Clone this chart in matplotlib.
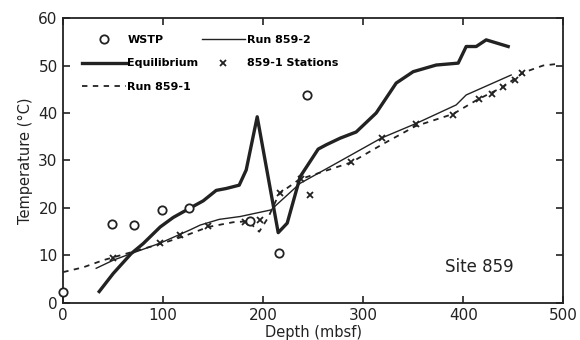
import matplotlib
matplotlib.use("Agg")
from matplotlib import pyplot as plt

# WSTP measurements (circles)
wstp_depth = [0, 49, 71, 99, 126, 187, 216, 244]
wstp_temp = [2.2, 16.6, 16.4, 19.6, 19.9, 17.3, 10.5, 43.8]

# equilibrium temperature (thick line)
eq_depth = [36, 50, 68, 80, 97, 110, 127, 140, 153, 163, 176, 183, 194, 215, 224,
            237, 255, 263, 277, 293, 313, 333, 350, 373, 395, 403, 413, 423, 445]
eq_temp = [2.4, 6.2, 10.4, 12.5, 16, 18, 20, 21.5, 23.7, 24.1, 24.8, 28, 39.2, 14.8, 16.8,
           26.6, 32.4, 33.3, 34.7, 36, 40, 46.3, 48.7, 50.1, 50.5, 54, 54, 55.4, 54]

# Run 859-2 (thin solid)
r2_depth = [33, 50, 68, 97, 127, 137, 156, 177, 208, 213, 237, 267, 318, 353, 393, 403, 448]
r2_temp = [7.3, 9, 10.4, 12.6, 15.4, 16.4, 17.6, 18.2, 19.6, 20.6, 25.2, 28.7, 34.7, 37.8,
           41.7, 43.8, 48]

# Run 859-1 (dashed)
r1_depth = [0, 20, 40, 60, 80, 100, 120, 145, 170, 185, 196, 205, 216, 236, 262, 288,
            320, 352, 390, 415, 440, 460, 480, 497]
r1_temp = [6.5, 7.5, 9, 10.2, 11.4, 12.6, 14, 16, 17, 17.2, 15, 18, 23, 26, 27.8, 29.6,
           33.5, 37.2, 39.8, 42.9, 45.5, 48.5, 50, 50.4]

# 859-1 stations (x markers)
st_depth = [50, 97, 117, 145, 182, 197, 217, 238, 247, 288, 319, 353, 390, 416, 429,
            440, 452, 459]
st_temp = [9.4, 12.6, 14.3, 16.1, 17.1, 17.5, 23.1, 26.2, 22.7, 29.6, 34.7, 37.7, 39.6,
           42.9, 43.9, 45.5, 46.9, 48.5]

ink = "#222222"

fig = plt.figure(figsize=(5.8, 3.4), dpi=100)
ax = fig.add_axes([0.109, 0.109, 0.862, 0.838])

ax.plot(wstp_depth, wstp_temp, "o", mfc="white", mec=ink, mew=1.3, ms=6,
        linestyle="none", label="WSTP", clip_on=False, zorder=4)
ax.plot(eq_depth, eq_temp, "-", color=ink, lw=2.4, label="Equilibrium")
ax.plot(r1_depth, r1_temp, "--", color=ink, lw=1.3, dashes=(3, 3), label="Run 859-1")
ax.plot(r2_depth, r2_temp, "-", color=ink, lw=1.0, label="Run 859-2")
ax.plot(st_depth, st_temp, "x", color=ink, ms=4, mew=1.3, linestyle="none",
        label="859-1 Stations")

ax.set_xlim(0, 500)
ax.set_ylim(0, 60)
ax.set_xticks(range(0, 501, 100))
ax.set_yticks(range(0, 61, 10))
ax.tick_params(direction="in", length=5, width=1.2, top=True, right=True,
               labelsize=11, colors=ink, pad=4)
for s in ax.spines.values():
    s.set_linewidth(1.3)
    s.set_color(ink)

ax.set_xlabel("Depth (mbsf)", fontsize=10.5, color=ink, labelpad=1)
ax.set_ylabel("Temperature (°C)", fontsize=10.5, color=ink, labelpad=4)

ax.text(416, 7.6, "Site 859", fontsize=12, color=ink, ha="center", va="center")

ax.legend(ncol=2, loc="upper left", frameon=False,
          prop={"weight": "semibold", "size": 8}, handlelength=3.9,
          handletextpad=0.15, columnspacing=0.3, labelspacing=1.2,
          borderaxespad=0, borderpad=0, bbox_to_anchor=(0.038, 0.94))

fig.savefig("out.png", dpi=100)
